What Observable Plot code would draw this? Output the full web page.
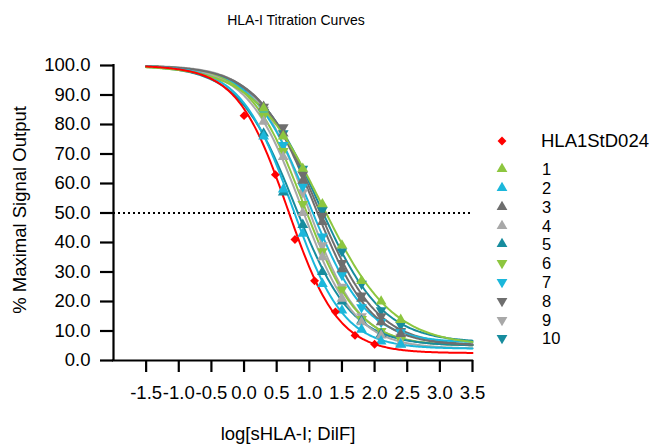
<!DOCTYPE html>
<html>
<head>
<meta charset="utf-8">
<script src="https://cdn.jsdelivr.net/npm/d3@7"></script>
<script src="https://cdn.jsdelivr.net/npm/@observablehq/plot@0.6"></script>
<style>
  html, body { margin: 0; padding: 0; background: #fff; }
  #wrap { position: relative; width: 654px; height: 445px; overflow: hidden; font-family: "Liberation Sans", Arial, sans-serif; color: #000; }
  #wrap svg.plot { position: absolute; left: 0; top: 0; }
  .abs { position: absolute; white-space: nowrap; line-height: 1; }
  #title { left: 296px; top: 20px; transform: translate(-50%, -50%); font-size: 14px; }
  #xlab { left: 288px; top: 434px; transform: translate(-50%, -50%); font-size: 18.5px; }
  #ylab { left: 20px; top: 210px; transform: translate(-50%, -50%) rotate(-90deg); font-size: 18.5px; }
  #legend { left: 494px; top: 132px; font-size: 16.5px; }
  .row { display: flex; align-items: center; height: 18.8px; line-height: 16px; }
  .row svg { width: 16px; height: 16px; flex: none; }
  .row span { margin-left: 32px; line-height: 16px; }
  .row.first { margin-bottom: 9px; font-size: 18.5px; }
  .row.first span { margin-left: 31px; }
</style>
</head>
<body>
<div id="wrap">
  <div id="title" class="abs">HLA-I Titration Curves</div>
  <div id="xlab" class="abs">log[sHLA-I; DilF]</div>
  <div id="ylab" class="abs">% Maximal Signal Output</div>
  <div id="legend" class="abs"></div>
</div>
<script>
// ---- data ----
const seriesNames = ["HLA1StD024", "1", "2", "3", "4", "5", "6", "7", "8", "9", "10"];
const seriesColors = ["#FF0000", "#8DC63F", "#1BB7DB", "#6E6E6E", "#A8A8A8", "#178C9E",
                      "#8DC63F", "#1BB7DB", "#6E6E6E", "#A8A8A8", "#178C9E"];
const seriesSymbols = ["diamond", "up", "up", "up", "up", "up", "down", "down", "down", "down", "down"];

// fitted 4-parameter logistic curve parameters
const fitTop    = [100, 100, 100, 100, 100, 100, 100, 100, 100, 100, 100];
const fitBottom = [2.5, 5, 4, 5, 4, 5, 5, 6, 5, 5, 6];
const fitLogEC50 = [0.67, 1.20, 0.74, 1.08, 0.88, 0.78, 0.92, 1.00, 1.12, 0.97, 1.15];
const fitHill   = [1.12, 0.81, 1.10, 1.00, 1.05, 1.00, 1.05, 1.00, 0.95, 1.10, 0.90];

// measured points
const refX = [0, 0.48, 0.78, 1.08, 1.40, 1.70, 2.00];
const refY = [83, 63, 41, 27, 16.5, 8.5, 5.5];
const sampleX = [0.3, 0.6, 0.9, 1.2, 1.5, 1.8, 2.1, 2.4];
const s1  = [85.5, 76, 65, 53, 39, 27, 20, 13.8];
const s2  = [76, 58, 43, 26, 17, 10.5, 6.5, 5.5];
const s3  = [86, 77, 61, 47, 31, 21, 13, 9];
const s4  = [81, 69, 50, 35, 21, 13, 8.5, 6];
const s5  = [77, 57, 46, 30, 20, 13.5, 9, 5.5];
const s6  = [83, 71, 53, 37, 24, 14, 10, 7];
const s7  = [84, 73, 59, 42, 29, 18, 13, 9.5];
const s8  = [86, 79, 63, 49, 33, 22, 15, 10];
const s9  = [85, 73, 57, 39, 25, 15, 10, 8];
const s10 = [84, 77, 65, 51, 37, 26, 17, 12];

const xTicks = [-1.5, -1.0, -0.5, 0.0, 0.5, 1.0, 1.5, 2.0, 2.5, 3.0, 3.5];
const yTicks = [0, 10, 20, 30, 40, 50, 60, 70, 80, 90, 100];
const halfLine = [50];

// ---- build tables ----
const sampleSeries = [s1, s2, s3, s4, s5, s6, s7, s8, s9, s10];
const points = [];
refX.forEach((x, j) => points.push({series: 0, x, y: refY[j]}));
sampleSeries.forEach((arr, i) => arr.forEach((y, j) => points.push({series: i + 1, x: sampleX[j], y})));

const curveGrid = d3.range(-1.5, 3.5001, 0.02);
const curves = [];
seriesNames.forEach((n, i) => {
  curveGrid.forEach(x => {
    const y = fitBottom[i] + (fitTop[i] - fitBottom[i]) / (1 + Math.pow(10, (x - fitLogEC50[i]) * fitHill[i]));
    curves.push({series: i, x, y});
  });
});

const triDown = {
  draw(context, size) {
    const sqrt3 = Math.sqrt(3);
    const y = -Math.sqrt(size / (sqrt3 * 3));
    context.moveTo(0, -y * 2);
    context.lineTo(-sqrt3 * y, y);
    context.lineTo(sqrt3 * y, y);
    context.closePath();
  }
};
const symFor = s => s === "diamond" ? d3.symbolDiamond2 : s === "up" ? d3.symbolTriangle : triDown;

const fmt = d => d.toFixed(1);
const order = [10, 9, 8, 7, 6, 5, 4, 3, 2, 1, 0];

const dotMarks = order.map(i => Plot.dot(points.filter(p => p.series === i), {
  x: "x", y: "y", r: 4, symbol: symFor(seriesSymbols[i]), fill: seriesColors[i], stroke: "none"
}));
const lineMarks = order.map(i => Plot.line(curves.filter(p => p.series === i), {
  x: "x", y: "y", stroke: seriesColors[i], strokeWidth: 2
}));

const chart = Plot.plot({
  width: 654,
  height: 445,
  marginLeft: 113,
  marginRight: 182,
  marginTop: 65,
  marginBottom: 85,
  x: {domain: [-2, 3.5]},
  y: {domain: [0, 100]},
  style: {fontFamily: "'Liberation Sans', Arial, sans-serif", background: "transparent", color: "#000"},
  marks: [
    Plot.ruleY(halfLine, {stroke: "#000", strokeWidth: 2, strokeDasharray: "2,3"}),
    ...lineMarks,
    ...dotMarks,
    Plot.ruleX([-2], {stroke: "#000", strokeWidth: 2.2, strokeLinecap: "square"}),
    Plot.ruleY([0], {stroke: "#000", strokeWidth: 2.2, strokeLinecap: "square"}),
    Plot.axisX(xTicks, {tickSize: 12, tickPadding: 13, tickFormat: fmt, fontSize: 18.5, strokeWidth: 2.2, stroke: "#000", fill: "#000", label: null}),
    Plot.axisY(yTicks, {tickSize: 13, tickPadding: 10, tickFormat: fmt, fontSize: 18.5, strokeWidth: 2.2, stroke: "#000", fill: "#000", label: null})
  ]
});
chart.classList.add("plot");
document.getElementById("wrap").prepend(chart);

// ---- legend ----
const legend = document.getElementById("legend");
seriesNames.forEach((n, i) => {
  const row = document.createElement("div");
  row.className = "row" + (i === 0 ? " first" : "");
  const path = d3.symbol(symFor(seriesSymbols[i]), Math.PI * 16)();
  row.innerHTML = `<svg viewBox="-8 -8 16 16"><path d="${path}" fill="${seriesColors[i]}"></path></svg><span>${n}</span>`;
  legend.appendChild(row);
});
</script>
</body>
</html>
